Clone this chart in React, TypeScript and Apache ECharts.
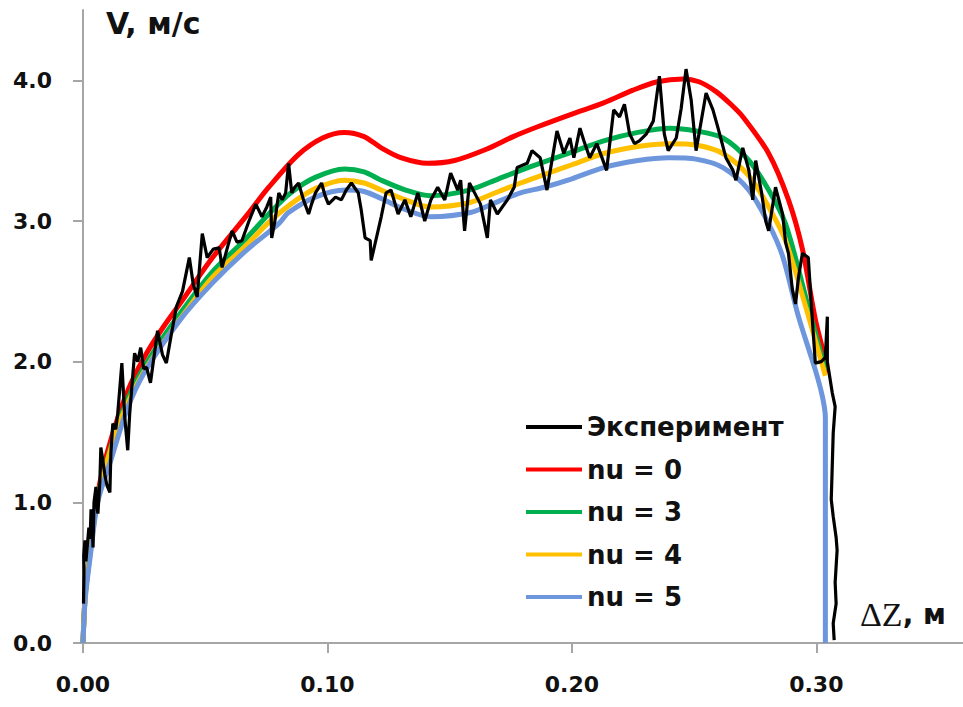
import React, { useEffect, useRef } from "react";
import * as echarts from "echarts";

// ---- data (x = ΔZ, м ; y = V, м/с) ----
const xTickValues = [0, 0.1, 0.2, 0.3];
const yTickValues = [0, 1, 2, 3, 4];

const seriesNames = ["Эксперимент", "nu = 0", "nu = 3", "nu = 4", "nu = 5"];
const seriesColors = ["#000000", "#ff0000", "#00b050", "#ffc000", "#6d96dc"];

const experiment: [number, number][] = [
  [0.0002, 0.28], [0.0004, 0.5], [0.0003, 0.62], [0.0008, 0.73], [0.0012, 0.58], [0.0016, 0.66],
  [0.0024, 0.82], [0.0029, 0.74], [0.0033, 0.95], [0.0037, 0.86], [0.0041, 0.68], [0.0045, 1.0],
  [0.0053, 1.11], [0.0057, 0.97], [0.0061, 0.92], [0.0069, 1.15], [0.0073, 1.39], [0.0081, 1.3],
  [0.0089, 1.2], [0.0098, 1.12], [0.011, 1.07], [0.0114, 1.35], [0.0122, 1.56], [0.0134, 1.52],
  [0.0142, 1.63], [0.0159, 1.99], [0.0167, 1.73], [0.0171, 1.6], [0.0183, 1.37], [0.0191, 1.63],
  [0.0211, 2.06], [0.0224, 2.0], [0.0236, 2.1], [0.0248, 1.95], [0.026, 1.96], [0.0276, 1.85],
  [0.0305, 2.22], [0.0325, 2.05], [0.0341, 1.99], [0.0362, 2.2], [0.0382, 2.39], [0.0407, 2.5],
  [0.0435, 2.74], [0.0451, 2.55], [0.0467, 2.46], [0.0488, 2.91], [0.0508, 2.74], [0.0533, 2.8],
  [0.0557, 2.81], [0.0569, 2.67], [0.0589, 2.8], [0.061, 2.93], [0.063, 2.85], [0.065, 2.86],
  [0.0679, 3.0], [0.0707, 3.12], [0.0732, 3.03], [0.0752, 3.1], [0.0768, 3.17], [0.0772, 2.88],
  [0.0785, 3.0], [0.0801, 3.2], [0.0815, 3.15], [0.0829, 3.2], [0.0841, 3.41], [0.0854, 3.2],
  [0.0866, 3.24], [0.0882, 3.27], [0.0902, 3.15], [0.0923, 3.05], [0.0935, 3.12], [0.0951, 3.2],
  [0.0976, 3.27], [0.099, 3.18], [0.1004, 3.12], [0.1033, 3.17], [0.1057, 3.15], [0.1077, 3.22],
  [0.1098, 3.27], [0.1126, 3.2], [0.1138, 3.08], [0.1154, 2.88], [0.1175, 2.86], [0.1179, 2.72],
  [0.1195, 2.84], [0.122, 3.03], [0.124, 3.2], [0.126, 3.22], [0.1289, 3.05], [0.1317, 3.15],
  [0.1341, 3.03], [0.137, 3.2], [0.1398, 3.0], [0.1423, 3.15], [0.1451, 3.24], [0.148, 3.15],
  [0.1504, 3.34], [0.1533, 3.22], [0.1545, 3.29], [0.1561, 2.93], [0.1581, 3.27], [0.1602, 3.2],
  [0.1626, 3.12], [0.1654, 2.88], [0.1667, 3.15], [0.1695, 3.05], [0.1736, 3.15], [0.1764, 3.24],
  [0.1776, 3.38], [0.1817, 3.41], [0.1837, 3.5], [0.187, 3.45], [0.1898, 3.22], [0.1939, 3.64],
  [0.1967, 3.48], [0.1992, 3.59], [0.2008, 3.45], [0.2033, 3.66], [0.2049, 3.57], [0.2073, 3.45],
  [0.2102, 3.55], [0.2142, 3.36], [0.2171, 3.79], [0.2195, 3.74], [0.2215, 3.83], [0.2236, 3.62],
  [0.2256, 3.55], [0.2276, 3.57], [0.2305, 3.62], [0.2333, 3.71], [0.2358, 4.03], [0.2378, 3.62],
  [0.2394, 3.5], [0.2427, 3.59], [0.2447, 3.8], [0.2467, 4.08], [0.2488, 3.86], [0.2508, 3.5],
  [0.2549, 3.91], [0.2577, 3.79], [0.2598, 3.66], [0.263, 3.45], [0.2659, 3.36], [0.2671, 3.29],
  [0.2699, 3.52], [0.2724, 3.36], [0.274, 3.15], [0.2752, 3.43], [0.2776, 3.2], [0.2793, 3.0],
  [0.2805, 2.93], [0.2833, 3.24], [0.2862, 3.05], [0.2874, 2.85], [0.2886, 2.77], [0.2902, 2.51],
  [0.2915, 2.41], [0.2927, 2.6], [0.2943, 2.77], [0.2967, 2.74], [0.2984, 2.29], [0.2996, 1.99],
  [0.302, 2.0], [0.3037, 2.03], [0.3045, 2.32], [0.3045, 2.0], [0.3065, 1.78], [0.3077, 1.68],
  [0.3069, 1.49], [0.3065, 1.25], [0.3061, 1.02], [0.3069, 0.9], [0.3081, 0.75], [0.3085, 0.66],
  [0.3077, 0.43], [0.3081, 0.28], [0.3069, 0.14], [0.3073, 0.02],
];

const nu0: [number, number][] = [
  [0, 0], [0.001, 0.37], [0.003, 0.68], [0.006, 1.06], [0.01, 1.36], [0.015, 1.64], [0.02, 1.86],
  [0.026, 2.06], [0.033, 2.25], [0.04, 2.42], [0.053, 2.74], [0.067, 3.04], [0.076, 3.24],
  [0.088, 3.47], [0.098, 3.59], [0.107, 3.63], [0.115, 3.6], [0.122, 3.52], [0.13, 3.45],
  [0.141, 3.41], [0.152, 3.43], [0.165, 3.51], [0.176, 3.6], [0.186, 3.67], [0.2, 3.76],
  [0.213, 3.84], [0.225, 3.93], [0.235, 3.99], [0.2455, 4.01], [0.252, 3.99], [0.259, 3.92],
  [0.265, 3.83], [0.27, 3.74], [0.2805, 3.48], [0.2886, 3.15], [0.2943, 2.8], [0.2996, 2.3],
  [0.3037, 2.01], [0.3045, 1.92],
];

const nu3: [number, number][] = [
  [0, 0], [0.001, 0.36], [0.003, 0.66], [0.006, 1.04], [0.01, 1.31], [0.015, 1.59], [0.02, 1.8],
  [0.026, 1.99], [0.033, 2.18], [0.04, 2.35], [0.053, 2.64], [0.067, 2.88], [0.076, 3.05],
  [0.085, 3.2], [0.095, 3.31], [0.107, 3.37], [0.115, 3.35], [0.122, 3.29], [0.132, 3.22],
  [0.142, 3.18], [0.158, 3.22], [0.17, 3.3], [0.179, 3.36], [0.1886, 3.42], [0.2, 3.49],
  [0.213, 3.57], [0.227, 3.63], [0.24, 3.66], [0.2508, 3.64], [0.2618, 3.59], [0.2724, 3.43],
  [0.2805, 3.22], [0.2874, 2.98], [0.2955, 2.47], [0.3037, 1.94],
];

const nu4: [number, number][] = [
  [0, 0], [0.001, 0.35], [0.003, 0.65], [0.006, 1.03], [0.01, 1.3], [0.015, 1.57], [0.02, 1.77],
  [0.026, 1.96], [0.033, 2.14], [0.04, 2.31], [0.053, 2.6], [0.067, 2.83], [0.076, 2.99],
  [0.085, 3.12], [0.095, 3.23], [0.107, 3.29], [0.115, 3.27], [0.122, 3.22], [0.132, 3.15],
  [0.142, 3.1], [0.158, 3.13], [0.17, 3.21], [0.179, 3.27], [0.1886, 3.33], [0.2, 3.4],
  [0.213, 3.48], [0.227, 3.53], [0.24, 3.55], [0.2508, 3.54], [0.2618, 3.48], [0.2724, 3.32],
  [0.2805, 3.1], [0.2874, 2.86], [0.2955, 2.4], [0.3037, 1.9],
];

const nu5: [number, number][] = [
  [0, 0], [0.0005, 0.2], [0.001, 0.33], [0.003, 0.62], [0.006, 1.0], [0.0114, 1.3], [0.018, 1.66],
  [0.025, 1.92], [0.0394, 2.29], [0.053, 2.56], [0.0667, 2.79], [0.08, 2.98], [0.0841, 3.06],
  [0.095, 3.17], [0.1073, 3.22], [0.115, 3.21], [0.122, 3.16], [0.132, 3.08], [0.1423, 3.03],
  [0.1585, 3.06], [0.17, 3.14], [0.179, 3.2], [0.1886, 3.24], [0.2, 3.3], [0.213, 3.38],
  [0.227, 3.43], [0.2398, 3.45], [0.2508, 3.44], [0.2618, 3.38], [0.2724, 3.22], [0.2805, 2.98],
  [0.2862, 2.75], [0.2927, 2.32], [0.2996, 1.94], [0.3025, 1.75], [0.3037, 1.6], [0.3037, 0],
];

const FONT = "'DejaVu Sans', Verdana, sans-serif";
const AXIS_COLOR = "#a6a6a6";

export default function App() {
  const ref = useRef<HTMLDivElement>(null);
  useEffect(() => {
    if (!ref.current) return;
    const chart = echarts.init(ref.current, null, { renderer: "svg" });
    const modelSeries = [
      { name: seriesNames[1], data: nu0, color: seriesColors[1] },
      { name: seriesNames[2], data: nu3, color: seriesColors[2] },
      { name: seriesNames[3], data: nu4, color: seriesColors[3] },
      { name: seriesNames[4], data: nu5, color: seriesColors[4] },
    ].map((s) => ({
      type: "line",
      name: s.name,
      data: s.data,
      smooth: 0.3,
      showSymbol: false,
      symbol: "none",
      lineStyle: { color: s.color, width: 5 },
      itemStyle: { color: s.color },
      z: 2,
    }));
    chart.setOption({
      animation: false,
      backgroundColor: "#ffffff",
      grid: { left: 83, top: 10, width: 885.6, height: 633 },
      legend: {
        orient: "vertical",
        left: 521,
        top: 407,
        data: seriesNames.map((n) => ({ name: n })),
        icon: "rect",
        itemWidth: 56,
        itemHeight: 4,
        itemGap: 12.5,
        textStyle: { fontFamily: FONT, fontWeight: "bold", fontSize: 26, color: "#111", lineHeight: 30 },
      },
      xAxis: {
        type: "value",
        min: 0,
        max: 0.36,
        interval: 0.1,
        axisLine: { show: true, lineStyle: { color: AXIS_COLOR, width: 2 } },
        axisTick: { show: true, length: 10, customValues: xTickValues, lineStyle: { color: AXIS_COLOR, width: 2 } },
        axisLabel: {
          customValues: xTickValues,
          formatter: (v: number) => v.toFixed(2),
          margin: 30,
          fontFamily: FONT,
          fontWeight: "bold",
          fontSize: 22,
          color: "#111",
        },
        splitLine: { show: false },
      },
      yAxis: {
        type: "value",
        min: 0,
        max: 4.5,
        interval: 1,
        axisLine: { show: true, lineStyle: { color: AXIS_COLOR, width: 2 } },
        axisTick: { show: true, length: 10, customValues: yTickValues, lineStyle: { color: AXIS_COLOR, width: 2 } },
        axisLabel: {
          customValues: yTickValues,
          formatter: (v: number) => v.toFixed(1),
          margin: 31,
          fontFamily: FONT,
          fontWeight: "bold",
          fontSize: 22,
          color: "#111",
        },
        splitLine: { show: false },
      },
      graphic: [
        {
          type: "text",
          left: 106,
          top: 8,
          style: { text: "V, м/с", fontFamily: FONT, fontWeight: "bold", fontSize: 30, fill: "#111" },
        },
        {
          type: "text",
          left: 860,
          top: 597,
          style: {
            text: "{a|ΔZ}{b|, м}",
            rich: {
              a: { fontFamily: "'Liberation Serif', 'Times New Roman', serif", fontSize: 34, fill: "#111" },
              b: { fontFamily: FONT, fontWeight: "bold", fontSize: 28, fill: "#111" },
            },
          },
        },
      ],
      series: [
        ...modelSeries,
        {
          type: "line",
          name: seriesNames[0],
          data: experiment,
          showSymbol: false,
          symbol: "none",
          lineStyle: { color: seriesColors[0], width: 3.2 },
          itemStyle: { color: seriesColors[0] },
          z: 3,
        },
      ],
    });
    return () => chart.dispose();
  }, []);
  return (
    <div
      ref={ref}
      style={{ position: "fixed", left: 0, top: 0, width: 963, height: 707, background: "#fff" }}
    />
  );
}
